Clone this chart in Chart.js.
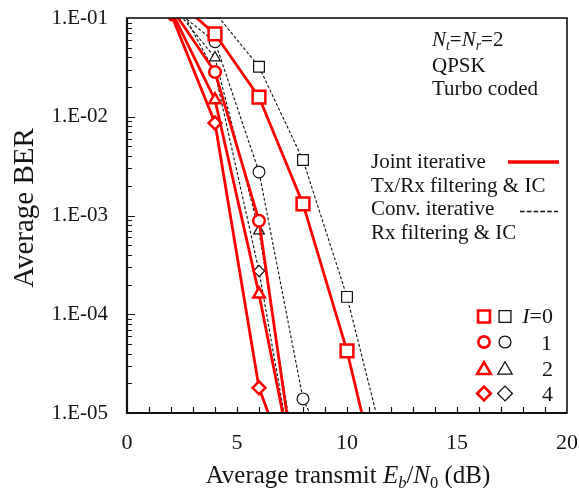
<!DOCTYPE html>
<html>
<head>
<meta charset="utf-8">
<script src="https://cdn.jsdelivr.net/npm/chart.js@4.4.0/dist/chart.umd.min.js"></script>
<style>
  html, body { margin: 0; padding: 0; background: #fff; }
</style>
</head>
<body>
<canvas id="berChart" width="579" height="488"></canvas>
<script>
const ebn0 = [2, 4, 6, 8, 10, 12];

// joint iterative Tx/Rx filtering & IC (red, solid)
const jointI0 = [0.169, 0.0689, 0.0158, 1.31e-3, 4.25e-5, 5.7e-7];
const jointI1 = [0.128, 0.0284, 8.85e-4, 7.2e-7, null, null];
const jointI2 = [0.12, 0.0148, 1.6e-4, 9.3e-7, null, null];
const jointI4 = [0.11, 8.65e-3, 1.8e-5, 1.1e-6, null, null];

// conventional iterative Rx filtering & IC (black, dashed)
const convI0 = [null, 0.113, 0.0321, 3.65e-3, 1.5e-4, 2.5e-6];
const convI1 = [0.13, 0.0575, 2.76e-3, 1.39e-5, 1.6e-6, null];
const convI2 = [0.14, 0.0396, 7.0e-4, 1.1e-6, null, null];
const convI4 = [0.19, 0.028, 2.74e-4, 8.1e-7, null, null];

const xTicks = [0, 5, 10, 15, 20];
const yTicks = [1e-5, 1e-4, 1e-3, 1e-2, 1e-1];
const yTickLabels = ['1.E-05', '1.E-04', '1.E-03', '1.E-02', '1.E-01'];
const iterLabels = ['0', '1', '2', '4'];
const markerStyles = ['rect', 'circle', 'triangle', 'rectRot'];

const FONT = '"Liberation Serif", "Times New Roman", serif';
const TEXT = '#141414';
const RED = '#ff0000';

function toPoints(vals) {
  return ebn0.map((x, i) => ({ x: x, y: vals[i] }));
}

const redRadius = [9, 5.8, 6.6, 6.4];
const blackRadius = [7.6, 5.9, 6.2, 5.6];

const datasets = [];
[jointI0, jointI1, jointI2, jointI4].forEach((vals, i) => {
  datasets.push({
    data: toPoints(vals),
    borderColor: RED,
    borderWidth: 2.8,
    pointStyle: markerStyles[i],
    pointRadius: redRadius[i],
    pointBorderWidth: 2.5,
    pointBorderColor: RED,
    pointBackgroundColor: '#fff',
    tension: 0
  });
});
[convI0, convI1, convI2, convI4].forEach((vals, i) => {
  datasets.push({
    data: toPoints(vals),
    borderColor: '#111',
    borderWidth: 1.1,
    borderDash: [3, 2],
    pointStyle: markerStyles[i],
    pointRadius: blackRadius[i],
    pointBorderWidth: 1.2,
    pointBorderColor: '#111',
    pointBackgroundColor: '#fff',
    tension: 0
  });
});

// text with italic / subscript pieces
function richWidth(ctx, parts, size) {
  let w = 0;
  parts.forEach(p => {
    const sub = p[1].indexOf('sub') >= 0;
    const ital = p[1].charAt(0) === 'i';
    ctx.font = (ital ? 'italic ' : '') + (sub ? size * 0.66 : size) + 'px ' + FONT;
    w += ctx.measureText(p[0]).width;
  });
  return w;
}
function drawRich(ctx, parts, x, y, size) {
  let cx = x;
  parts.forEach(p => {
    const sub = p[1].indexOf('sub') >= 0;
    const ital = p[1].charAt(0) === 'i';
    ctx.font = (ital ? 'italic ' : '') + (sub ? size * 0.66 : size) + 'px ' + FONT;
    ctx.fillText(p[0], cx, y + (sub ? size * 0.2 : 0));
    cx += ctx.measureText(p[0]).width;
  });
}

const decor = {
  id: 'decor',
  beforeDatasetsDraw(chart) {
    const ctx = chart.ctx;
    const a = chart.chartArea;
    const xs = chart.scales.x, ys = chart.scales.y;
    ctx.save();
    ctx.strokeStyle = '#111';
    ctx.lineWidth = 1.2;
    ctx.beginPath();
    for (let v = 1; v < 20; v++) {
      const px = Math.round(xs.getPixelForValue(v)) + 0.5;
      ctx.moveTo(px, a.bottom);
      ctx.lineTo(px, a.bottom - 6);
    }
    for (let d = -5; d < -1; d++) {
      for (let m = 1; m < 10; m++) {
        if (m === 1 && d === -5) continue;
        const py = Math.round(ys.getPixelForValue(m * Math.pow(10, d))) + 0.5;
        ctx.moveTo(a.left, py);
        ctx.lineTo(a.left + (m === 1 ? 8 : 5), py);
      }
    }
    for (let m = 2; m < 10; m++) {
      const py = Math.round(ys.getPixelForValue(m * 1e-2)) + 0.5;
      ctx.moveTo(a.left, py);
      ctx.lineTo(a.left + 5, py);
    }
    ctx.stroke();
    ctx.restore();
  },
  afterDraw(chart) {
    const ctx = chart.ctx;
    const a = chart.chartArea;
    ctx.save();
    // frame
    ctx.strokeStyle = '#111';
    ctx.lineWidth = 1.6;
    ctx.strokeRect(a.left, a.top, a.right - a.left, a.bottom - a.top);
    ctx.lineWidth = 2.2;
    ctx.beginPath();
    ctx.moveTo(a.left, a.top);
    ctx.lineTo(a.left, a.bottom);
    ctx.lineTo(a.right, a.bottom);
    ctx.stroke();

    ctx.fillStyle = TEXT;
    ctx.textBaseline = 'alphabetic';
    ctx.textAlign = 'left';

    // conditions
    drawRich(ctx, [['N', 'i'], ['t', 'isub'], ['=', 'n'], ['N', 'i'], ['r', 'isub'], ['=2', 'n']], 432, 46, 21);
    drawRich(ctx, [['QPSK', 'n']], 432, 71.5, 21);
    drawRich(ctx, [['Turbo coded', 'n']], 432, 95, 21);

    // line legend
    const lines = ['Joint iterative', 'Tx/Rx filtering & IC', 'Conv. iterative', 'Rx filtering & IC'];
    const base = [168, 191.5, 215, 238.5];
    ctx.font = '21px ' + FONT;
    lines.forEach((t, i) => ctx.fillText(t, 371, base[i]));
    ctx.strokeStyle = RED;
    ctx.lineWidth = 3.6;
    ctx.beginPath();
    ctx.moveTo(508, 162);
    ctx.lineTo(559, 162);
    ctx.stroke();
    ctx.strokeStyle = '#111';
    ctx.lineWidth = 1.4;
    ctx.setLineDash([4.6, 2.2]);
    ctx.beginPath();
    ctx.moveTo(520, 211.5);
    ctx.lineTo(558, 211.5);
    ctx.stroke();
    ctx.setLineDash([]);

    // marker legend
    const rows = [316.5, 342, 368, 393.5];
    const legRed = [6.6, 6.3, 8.8, 7.6];
    const legBlack = [6.6, 6.6, 9.2, 8.2];
    rows.forEach((y, i) => {
      const st = markerStyles[i];
      const rr = st === 'rect' ? legRed[i] / Math.SQRT1_2 : legRed[i];
      const br = st === 'rect' ? legBlack[i] / Math.SQRT1_2 : legBlack[i];
      ctx.fillStyle = '#fff';
      ctx.strokeStyle = RED;
      ctx.lineWidth = 2.6;
      Chart.helpers.drawPoint(ctx, { pointStyle: st, radius: rr * 0.9, borderWidth: 2.6, rotation: 0 }, 484, y + (st === 'triangle' ? 2 : 0));
      ctx.strokeStyle = '#111';
      ctx.lineWidth = 1.3;
      Chart.helpers.drawPoint(ctx, { pointStyle: st, radius: br * 0.9, borderWidth: 1.3, rotation: 0 }, 505, y + (st === 'triangle' ? 2 : 0));
    });
    ctx.fillStyle = TEXT;
    ctx.textAlign = 'left';
    const eq = [['I', 'i'], ['=' + iterLabels[0], 'n']];
    drawRich(ctx, eq, 553 - richWidth(ctx, eq, 22), 323, 22);
    ctx.font = '22px ' + FONT;
    ctx.textAlign = 'right';
    ctx.fillText(iterLabels[1], 552, 349.5);
    ctx.fillText(iterLabels[2], 553, 375.5);
    ctx.fillText(iterLabels[3], 553, 401);

    // axis titles
    ctx.textAlign = 'left';
    const xt = [['Average transmit ', 'n'], ['E', 'i'], ['b', 'isub'], ['/', 'n'], ['N', 'i'], ['0', 'sub'], [' (dB)', 'n']];
    const w = richWidth(ctx, xt, 25);
    drawRich(ctx, xt, 348 - w / 2, 483, 25);

    ctx.translate(33, 208);
    ctx.rotate(-Math.PI / 2);
    ctx.textAlign = 'center';
    ctx.font = '29px ' + FONT;
    ctx.fillText('Average BER', 0, 0);
    ctx.restore();
  }
};

new Chart(document.getElementById('berChart').getContext('2d'), {
  type: 'line',
  data: { datasets: datasets },
  options: {
    responsive: false,
    animation: false,
    layout: { padding: { top: 18, right: 12, left: 0, bottom: 0 } },
    plugins: { legend: { display: false }, tooltip: { enabled: false } },
    scales: {
      x: {
        type: 'linear',
        min: 0,
        max: 20,
        grid: { display: false, drawTicks: false },
        border: { display: false },
        afterBuildTicks: s => { s.ticks = xTicks.map(v => ({ value: v })); },
        afterFit: s => { s.height = 75; s.paddingLeft = 0; s.paddingRight = 0; },
        ticks: { padding: 17, color: TEXT, font: { family: FONT, size: 22 }, maxRotation: 0 }
      },
      y: {
        type: 'logarithmic',
        min: 1e-5,
        max: 1e-1,
        grid: { display: false, drawTicks: false },
        border: { display: false },
        afterBuildTicks: s => { s.ticks = yTicks.map(v => ({ value: v })); },
        afterFit: s => { s.width = 127; s.paddingTop = 0; s.paddingBottom = 0; },
        ticks: {
          autoSkip: false,
          padding: 19,
          color: TEXT,
          font: { family: FONT, size: 21 },
          callback: (v, i) => yTickLabels[i]
        }
      }
    }
  },
  plugins: [decor]
});
</script>
</body>
</html>
